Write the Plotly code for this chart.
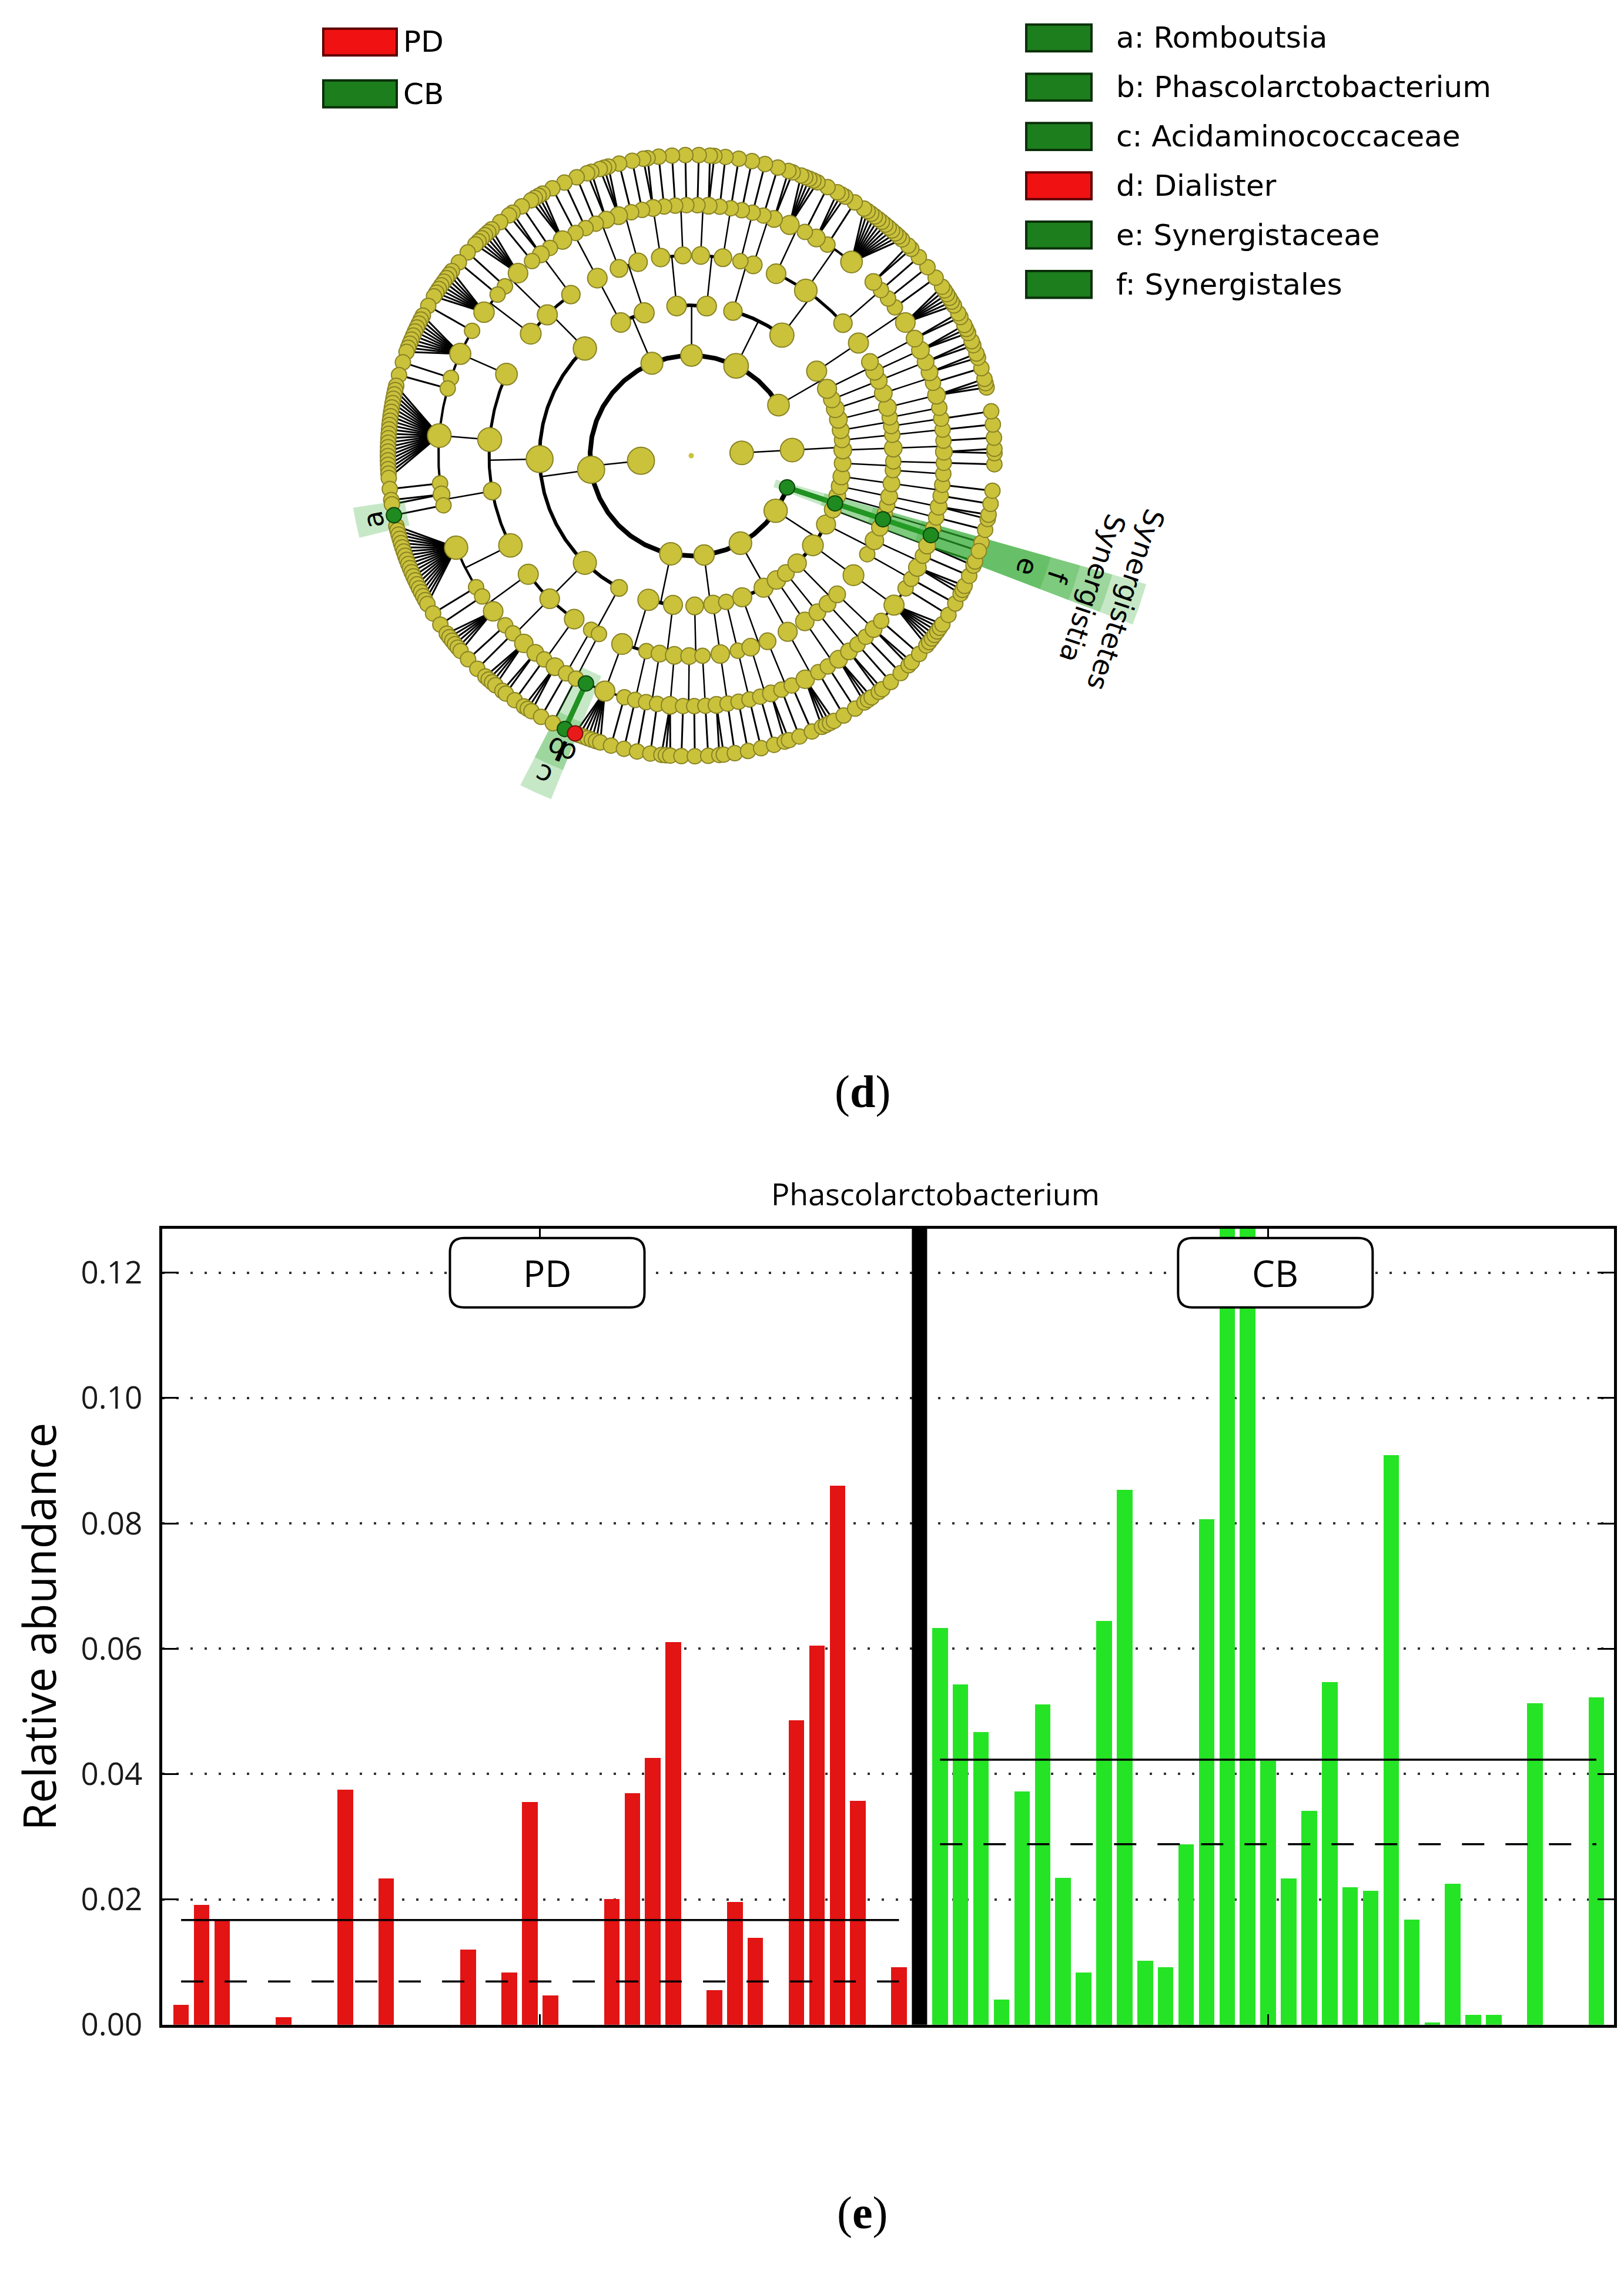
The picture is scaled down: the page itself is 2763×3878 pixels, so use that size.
import math
import numpy as np
import plotly.graph_objects as go

W, H = 2763, 3878

# ---- panel (e): relative abundance of Phascolarctobacterium per sample ----
pd_abund = [0.0032, 0.0191, 0.0168, 0, 0, 0.0012, 0, 0, 0.0375, 0,
            0.0233, 0, 0, 0, 0.0120, 0, 0.0083, 0.0355, 0.0047, 0,
            0, 0.0200, 0.0369, 0.0426, 0.0610, 0, 0.0055, 0.0196, 0.0139, 0,
            0.0486, 0.0605, 0.0860, 0.0357, 0, 0.0092]
cb_abund = [0.0633, 0.0543, 0.0467, 0.0040, 0.0372, 0.0511, 0.0234, 0.0083, 0.0644, 0.0853,
            0.0102, 0.0092, 0.0288, 0.0807, 0.1900, 0.2040, 0.0421, 0.0233, 0.0341, 0.0547,
            0.0219, 0.0214, 0.0909, 0.0168, 0.0003, 0.0225, 0.0016, 0.0016, 0, 0.0513,
            0, 0, 0.0522]
bar_colors = {"PD": "#e21414", "CB": "#25e425"}
y_ticks = [0.00, 0.02, 0.04, 0.06, 0.08, 0.10, 0.12]
y_max = 0.127
feature = "Phascolarctobacterium"

# ---- panel (d): cladogram ----
# nested lists = taxonomic levels (kingdom > phylum > class > order > family > genus)
# an integer n is a node with n leaf children (0 = the node itself is a leaf)
right_clade = [[[1], [1]], [[2]], [[1, 1]], [[0], [1]], [[2, 1]], [[1]],
               [[1], [0]], [[3]], [[1, 2]], [[2]]]
clade_1 = [[[3], [2]], [[6, 1]]]
clade_2 = [[[1, 1, 2], [12, 1, 3], [1, 5]], [[2, 1], [1]]]
clade_3 = [[[1, 1, 1], [2, 1]], [[1, 1], [1, 2, 1]]]
clade_4 = [[[1, 3], [2, 1]], [[1, 1, 4]]]
clade_5 = [[[1, 2, 1], [6, 1], [1, 8]],
           [[1, 10, 1], [1, 22, 1], [2, 1], [20, 1]],
           [[1, 6], [1, 1, 4], [2, 1, 3]],
           [[1], [1]]]
clade_6 = [[[1, 7, 1], [1]], [[1, 1], [3]]]
clade_7 = [[[1, 1], [1]], [[2, 1, 1]], [[1]]]
clade_8 = [[[1, 2], [1, 1]], [[4, 1]], [[1, 3]], [[2]]]
clade_9 = [[[1, 1], [2]], [[1, 7, 1]], [[1], [3, 1]], [[2]]]
clade_10 = [[[1]]]
kingdoms = [[right_clade],
            [clade_1, clade_2, clade_3, clade_4, clade_5,
             clade_6, clade_7, clade_8, clade_9, clade_10]]

# (letter, name, path in tree, enriched group)
biomarkers = [
    ("a", "Romboutsia", (1, 4, 1, 2, 1, 0), "CB"),
    ("b", "Phascolarctobacterium", (1, 5, 0, 0, 0, 0), "CB"),
    ("c", "Acidaminococcaceae", (1, 5, 0, 0, 0), "CB"),
    ("d", "Dialister", (1, 5, 0, 0, 1, 0), "PD"),
    ("e", "Synergistaceae", (1, 9, 0, 0, 0), "CB"),
    ("f", "Synergistales", (1, 9, 0, 0), "CB"),
]
upper_taxa = [("Synergistia", (1, 9, 0), "CB"), ("Synergistetes", (1, 9), "CB")]

ring = 86            # radius step between levels (px)
leaf_gap = 1.0       # extra spacing between leaves of different parents
single_gap = 0.5     # extra spacing next to leaves that are an only child
anchor = ((1, 9, 0, 0, 0), -18.5)   # orientation of the tree
band_end = {2: 805, 3: 745, 4: 688, 5: 636, 6: 582}
label_r = {2: 780, 3: 720, 4: 657, 5: 603, 6: 552}
band_pad = 2.6

node_fill = {None: "#cbc23c", "CB": "#1f8a1f", "PD": "#e81a1a"}
node_edge = {None: "#8a8424", "CB": "#0c450c", "PD": "#760c0c"}
band_fill = {"CB": "rgba(40,165,40,0.26)", "PD": None}
legend_fill = {"CB": "#1c7e1c", "PD": "#f01212"}
legend_edge = {"CB": "#0a300a", "PD": "#5e0000"}

# ---------------- build cladogram geometry ----------------
nodes = []


def add(item, level, path, parent):
    idx = len(nodes)
    nodes.append(dict(level=level, path=path, parent=parent, kids=[]))
    if parent is not None:
        nodes[parent]["kids"].append(idx)
    if isinstance(item, list):
        for i, ch in enumerate(item):
            add(ch, level + 1, path + (i,), idx)
    else:
        for i in range(item):
            add(0, level + 1, path + (i,), idx)
    return idx


add(kingdoms, 0, (), None)
by_path = {n["path"]: i for i, n in enumerate(nodes)}


def only_child(i):
    return len(nodes[nodes[i]["parent"]]["kids"]) == 1


leaves = [i for i, n in enumerate(nodes) if not n["kids"]]
cur = 0.0
for k, li in enumerate(leaves):
    if k > 0:
        prev = leaves[k - 1]
        if nodes[li]["parent"] == nodes[prev]["parent"]:
            cur += 1.0
        else:
            cur += 1.0 + leaf_gap + single_gap * (only_child(li) + only_child(prev))
    nodes[li]["pos"] = cur
span = cur + 1.0 + leaf_gap


def set_angle(i):
    n = nodes[i]
    if not n["kids"]:
        n["ang"] = n["pos"] / span * 360.0
        n["nleaf"] = 1
        n["leafang"] = [n["ang"]]
        return
    for k in n["kids"]:
        set_angle(k)
    first, last = nodes[n["kids"][0]], nodes[n["kids"][-1]]
    n["ang"] = (first["ang"] + last["ang"]) / 2
    n["nleaf"] = sum(nodes[k]["nleaf"] for k in n["kids"])
    n["leafang"] = [a for k in n["kids"] for a in nodes[k]["leafang"]]


set_angle(0)
shift = anchor[1] - nodes[by_path[anchor[0]]]["ang"]
for n in nodes:
    n["ang"] += shift
    n["leafang"] = [a + shift for a in n["leafang"]]

hl = {}
for letter, name, path, grp in biomarkers:
    hl[by_path[path]] = (letter, grp)
for name, path, grp in upper_taxa:
    hl[by_path[path]] = (name, grp)


def xy(r, a):
    t = math.radians(a)
    return r * math.cos(t), r * math.sin(t)


def arc(r, a0, a1):
    m = max(2, int(abs(a1 - a0) / 0.5) + 1)
    return [xy(r, a) for a in np.linspace(a0, a1, m)]


lines = {}


def seg(key, pts):
    xs, ys = lines.setdefault(key, ([], []))
    for x, y in pts:
        xs.append(x)
        ys.append(y)
    xs.append(None)
    ys.append(None)


arc_w = {2: 8, 3: 6, 4: 5, 5: 4}
green_keys = []
for i, n in enumerate(nodes):
    if not n["kids"] or n["level"] == 0:
        continue
    rp, rc = ring * n["level"], ring * (n["level"] + 1)
    ap = n["ang"]
    kid_angs = [nodes[k]["ang"] for k in n["kids"]]
    if n["level"] <= 4:
        seg(("black", 2.5), [xy(rp, ap), xy(rc, ap)])
        seg(("black", arc_w[n["level"] + 1]), arc(rc, min(kid_angs + [ap]), max(kid_angs + [ap])))
    else:
        for k in n["kids"]:
            seg(("black", 3), [xy(rp, ap), xy(rc, nodes[k]["ang"])])
    if i in hl:
        for k in n["kids"]:
            if k in hl and hl[k][1] == hl[i][1]:
                col = node_fill[hl[i][1]]
                ak = nodes[k]["ang"]
                if n["level"] <= 4:
                    seg((col, 9), [xy(rp, ap), xy(rc, ap)] + arc(rc, ap, ak)[1:])
                else:
                    seg((col, 9), [xy(rp, ap), xy(rc, ak)])
                green_keys.append((col, 9))

fig = go.Figure()

# cladogram edges (black first, highlighted on top)
order = sorted(lines.keys(), key=lambda kk: kk in green_keys)
for key in order:
    xs, ys = lines[key]
    fig.add_trace(go.Scatter(x=xs, y=ys, mode="lines", xaxis="x2", yaxis="y2",
                             line=dict(color=key[0], width=key[1]), hoverinfo="skip"))

# highlight bands
for i, (lab, grp) in hl.items():
    if band_fill[grp] is None:
        continue
    n = nodes[i]
    a0, a1 = min(n["leafang"]) - band_pad, max(n["leafang"]) + band_pad
    r0 = ring * n["level"] - 22
    r1 = band_end[n["level"]]
    pts = arc(r0, a0, a1) + arc(r1, a1, a0)
    pts.append(pts[0])
    fig.add_trace(go.Scatter(x=[p[0] for p in pts], y=[p[1] for p in pts], mode="lines",
                             fill="toself", fillcolor=band_fill[grp], line=dict(width=0),
                             xaxis="x2", yaxis="y2", hoverinfo="skip"))

# nodes
for grp in (None, "CB", "PD"):
    sel = [i for i in range(1, len(nodes)) if hl.get(i, (None, None))[1] == grp]
    sel.sort(key=lambda i: -nodes[i]["level"])
    fig.add_trace(go.Scatter(
        x=[xy(ring * nodes[i]["level"], nodes[i]["ang"])[0] for i in sel],
        y=[xy(ring * nodes[i]["level"], nodes[i]["ang"])[1] for i in sel],
        mode="markers", xaxis="x2", yaxis="y2", hoverinfo="skip",
        marker=dict(size=[min(46, 22 + 4 * math.log2(1 + nodes[i]["nleaf"])) for i in sel],
                    color=node_fill[grp], line=dict(color=node_edge[grp], width=2), opacity=1)))
fig.add_trace(go.Scatter(x=[0], y=[0], mode="markers", xaxis="x2", yaxis="y2",
                         marker=dict(size=9, color=node_fill[None]), hoverinfo="skip"))

# clade labels
for i, (lab, grp) in hl.items():
    n = nodes[i]
    a = n["ang"] % 360
    x, y = xy(label_r[n["level"]], a)
    ta = (90 - a + 180) % 360 - 180
    fig.add_annotation(x=x, y=y, xref="x2", yref="y2", text=lab, showarrow=False,
                       textangle=ta, font=dict(family="DejaVu Sans", size=47, color="black"))

# ---------------- bar chart ----------------
pd_x = list(range(len(pd_abund)))
split_x = len(pd_abund)
cb_x = [split_x + 1 + i for i in range(len(cb_abund))]

for grp, xs, vals in (("PD", pd_x, pd_abund), ("CB", cb_x, cb_abund)):
    fig.add_trace(go.Bar(x=xs, y=vals, width=0.76, marker=dict(color=bar_colors[grp], line_width=0),
                         hoverinfo="skip"))
for xs, vals in ((pd_x, pd_abund), (cb_x, cb_abund)):
    m, md = float(np.mean(vals)), float(np.median(vals))
    fig.add_trace(go.Scatter(x=[xs[0], xs[-1]], y=[m, m], mode="lines",
                             line=dict(color="black", width=3.5)))
    fig.add_trace(go.Scatter(x=[xs[0], xs[-1]], y=[md, md], mode="lines",
                             line=dict(color="black", width=3.5, dash="38px,36px")))

fig.add_shape(type="line", xref="x", yref="y domain", x0=split_x, x1=split_x, y0=0, y1=1,
              line=dict(color="black", width=26))

bw, bh, rr = 331, 118, 24
box_path = (f"M {-bw/2+rr},{-bh/2} L {bw/2-rr},{-bh/2} Q {bw/2},{-bh/2} {bw/2},{-bh/2+rr} "
            f"L {bw/2},{bh/2-rr} Q {bw/2},{bh/2} {bw/2-rr},{bh/2} L {-bw/2+rr},{bh/2} "
            f"Q {-bw/2},{bh/2} {-bw/2},{bh/2-rr} L {-bw/2},{-bh/2+rr} Q {-bw/2},{-bh/2} {-bw/2+rr},{-bh/2} Z")
for grp, xs in (("PD", pd_x), ("CB", cb_x)):
    cx = float(np.mean(xs)) + 0.35
    fig.add_shape(type="path", xref="x", yref="y", xsizemode="pixel", ysizemode="pixel",
                  xanchor=cx, yanchor=y_ticks[-1], path=box_path,
                  fillcolor="white", line=dict(color="black", width=4))
    fig.add_annotation(x=cx, y=y_ticks[-1], xref="x", yref="y", text=grp, showarrow=False,
                       font=dict(family="Open Sans", size=62, color="black"))


def paper_text(xpx, ypx, text, size, family, xanchor="center", angle=0):
    fig.add_annotation(x=xpx / W, y=1 - ypx / H, xref="paper", yref="paper", text=text,
                       showarrow=False, xanchor=xanchor, yanchor="middle", textangle=angle,
                       font=dict(family=family, size=size, color="black"))


paper_text(1583, 2040, feature, 52, "Open Sans")
paper_text(58, 2784, "Relative abundance", 76, "Open Sans", angle=-90)

# panel letters
for lab, ypx in (("d", 1865), ("e", 3790)):
    paper_text(1459, ypx, f"(<b>{lab}</b>)", 78, "Liberation Serif")

# ---------------- cladogram legends ----------------
for k, grp in enumerate(["PD", "CB"]):
    yc = 64 + k * 89
    fig.add_shape(type="rect", xref="paper", yref="paper", x0=542 / W, x1=667 / W,
                  y0=1 - (yc - 23) / H, y1=1 - (yc + 23) / H,
                  fillcolor=legend_fill[grp], line=dict(color=legend_edge[grp], width=4))
    paper_text(676, yc, grp, 50, "DejaVu Sans", xanchor="left")
for k, (letter, name, path, grp) in enumerate(biomarkers):
    yc = 57 + k * 84.6
    fig.add_shape(type="rect", xref="paper", yref="paper", x0=1738 / W, x1=1849 / W,
                  y0=1 - (yc - 23) / H, y1=1 - (yc + 23) / H,
                  fillcolor=legend_fill[grp], line=dict(color=legend_edge[grp], width=4))
    paper_text(1889, yc, f"{letter}: {name}", 50, "DejaVu Sans", xanchor="left")

fig.update_layout(
    width=W, height=H, margin=dict(l=0, r=0, t=0, b=0),
    paper_bgcolor="white", plot_bgcolor="white", showlegend=False, bargap=0,
    xaxis=dict(domain=[268 / W, 2738 / W], range=[pd_x[0] - 0.92, cb_x[-1] + 0.86],
               showline=True, linecolor="black", linewidth=5, mirror="ticks",
               ticks="inside", ticklen=18, tickwidth=3, tickcolor="black",
               tickvals=[float(np.mean(pd_x)), float(np.mean(cb_x))], showticklabels=False,
               showgrid=False, zeroline=False, layer="above traces", anchor="y"),
    yaxis=dict(domain=[1 - 3467 / H, 1 - 2101 / H], range=[0, y_max],
               showline=True, linecolor="black", linewidth=5, mirror="ticks",
               ticks="inside", ticklen=28, tickwidth=3, tickcolor="black",
               tickvals=y_ticks, ticktext=[f"{v:.2f}" for v in y_ticks],
               tickfont=dict(family="Open Sans", size=53, color="#1a1a1a"), ticklabelstandoff=18,
               showgrid=True, gridcolor="#333333", gridwidth=4, griddash="4px,20px",
               zeroline=False, layer="above traces", anchor="x"),
    xaxis2=dict(domain=[168 / W, 2168 / W], range=[-1000, 1000], visible=False, anchor="y2"),
    yaxis2=dict(domain=[1 - 1548 / H, 1], range=[-774, 774], visible=False, anchor="x2"),
)

fig.write_html("out.html")
